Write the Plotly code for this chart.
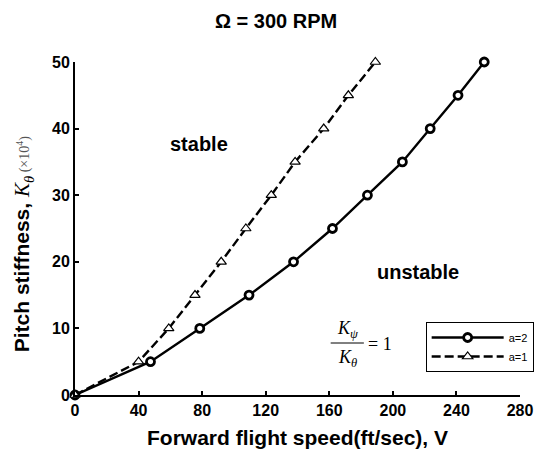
import plotly.graph_objects as go

# ---- data ----
k_theta = [0, 5, 10, 15, 20, 25, 30, 35, 40, 45, 50]
v_a2 = [0, 47.5, 78.5, 109.5, 137.5, 162, 184, 206, 223.5, 241, 257.5]
v_a1 = [0, 40, 59, 75.5, 92, 107.5, 123.5, 138.5, 156.5, 172, 189]
x_ticks = [0, 40, 80, 120, 160, 200, 240, 280]
y_ticks = [0, 10, 20, 30, 40, 50]
series_names = ["a=2", "a=1"]

SANS = "Liberation Sans, Arial, sans-serif"
SERIF = "Liberation Serif, Times New Roman, serif"

fig = go.Figure()
fig.add_trace(go.Scatter(
    x=v_a2, y=k_theta, name=series_names[0], mode="lines+markers",
    line=dict(color="black", width=2.4),
    marker=dict(symbol="circle", size=8, color="white",
                line=dict(color="black", width=2.8)),
    cliponaxis=False))
fig.add_trace(go.Scatter(
    x=v_a1, y=k_theta, name=series_names[1], mode="lines+markers",
    line=dict(color="black", width=2.4, dash="9px,4px"),
    marker=dict(symbol="triangle-up", size=9, color="white",
                line=dict(color="black", width=1.2)),
    cliponaxis=False))

L, R, T, B = 75, 15, 62, 67
W, H = 546, 462
pw, ph = W - L - R, H - T - B


def px(x, y):
    return (x - L) / pw, (H - B - y) / ph


ann = []


def add_text(text, x, y, size, family=SANS, weight="bold", color="black", angle=0, xanchor="center"):
    xp, yp = px(x, y)
    ann.append(dict(text=text, x=xp, y=yp, xref="paper", yref="paper",
                    showarrow=False, xanchor=xanchor, yanchor="middle",
                    textangle=angle,
                    font=dict(family=family, size=size, color=color, weight=weight)))


add_text("Ω = 300 RPM", 281, 21, 20)
add_text("stable", 202, 144, 20)
add_text("unstable", 426, 272, 20)
add_text("Forward flight speed(ft/sec), V", 303, 437, 21)
add_text("Pitch stiffness, <span style='font-family:Liberation Serif;font-weight:normal'><i>K</i><sub><i>θ</i></sub>"
         "</span><span style='font-family:Liberation Serif;font-weight:normal;font-size:14px;color:#555'> (×10<sup>4</sup>)</span>",
         22, 244, 21, angle=-90)
# fraction K_psi / K_theta = 1
add_text("<i>K</i><sub><i>ψ</i></sub>", 354, 329, 18, family=SERIF, weight="normal")
add_text("<i>K</i><sub><i>θ</i></sub>", 354, 358, 18, family=SERIF, weight="normal")
add_text("= 1", 388, 344, 18, family=SERIF, weight="normal")

x0p, y0p = px(337, 343)
x1p, _ = px(371, 343)
shapes = [dict(type="line", xref="paper", yref="paper", x0=x0p, x1=x1p, y0=y0p, y1=y0p,
               line=dict(color="black", width=1))]

fig.update_layout(
    width=W, height=H, margin=dict(l=L, r=R, t=T, b=B),
    paper_bgcolor="white", plot_bgcolor="white",
    annotations=ann, shapes=shapes,
    showlegend=True,
    legend=dict(x=px(545, 0)[0], xanchor="right", y=px(0, 372)[1], yanchor="bottom",
                bordercolor="black", borderwidth=1, bgcolor="white",
                itemwidth=72, font=dict(family=SANS, size=11, color="black"),
                tracegroupgap=0),
    xaxis=dict(range=[0, 280], tickvals=x_ticks, ticktext=[str(v) for v in x_ticks],
               showgrid=False, zeroline=False, showline=True, linecolor="black", linewidth=2,
               ticks="inside", ticklen=4, tickwidth=1.5, tickcolor="black",
               tickfont=dict(family=SANS, size=16, color="black", weight="bold")),
    yaxis=dict(range=[0, 50], tickvals=y_ticks, ticktext=[str(v) for v in y_ticks],
               showgrid=False, zeroline=False, showline=True, linecolor="black", linewidth=2,
               ticks="inside", ticklen=4, tickwidth=1.5, tickcolor="black",
               tickfont=dict(family=SANS, size=16, color="black", weight="bold")),
)

fig.write_html("out.html")
